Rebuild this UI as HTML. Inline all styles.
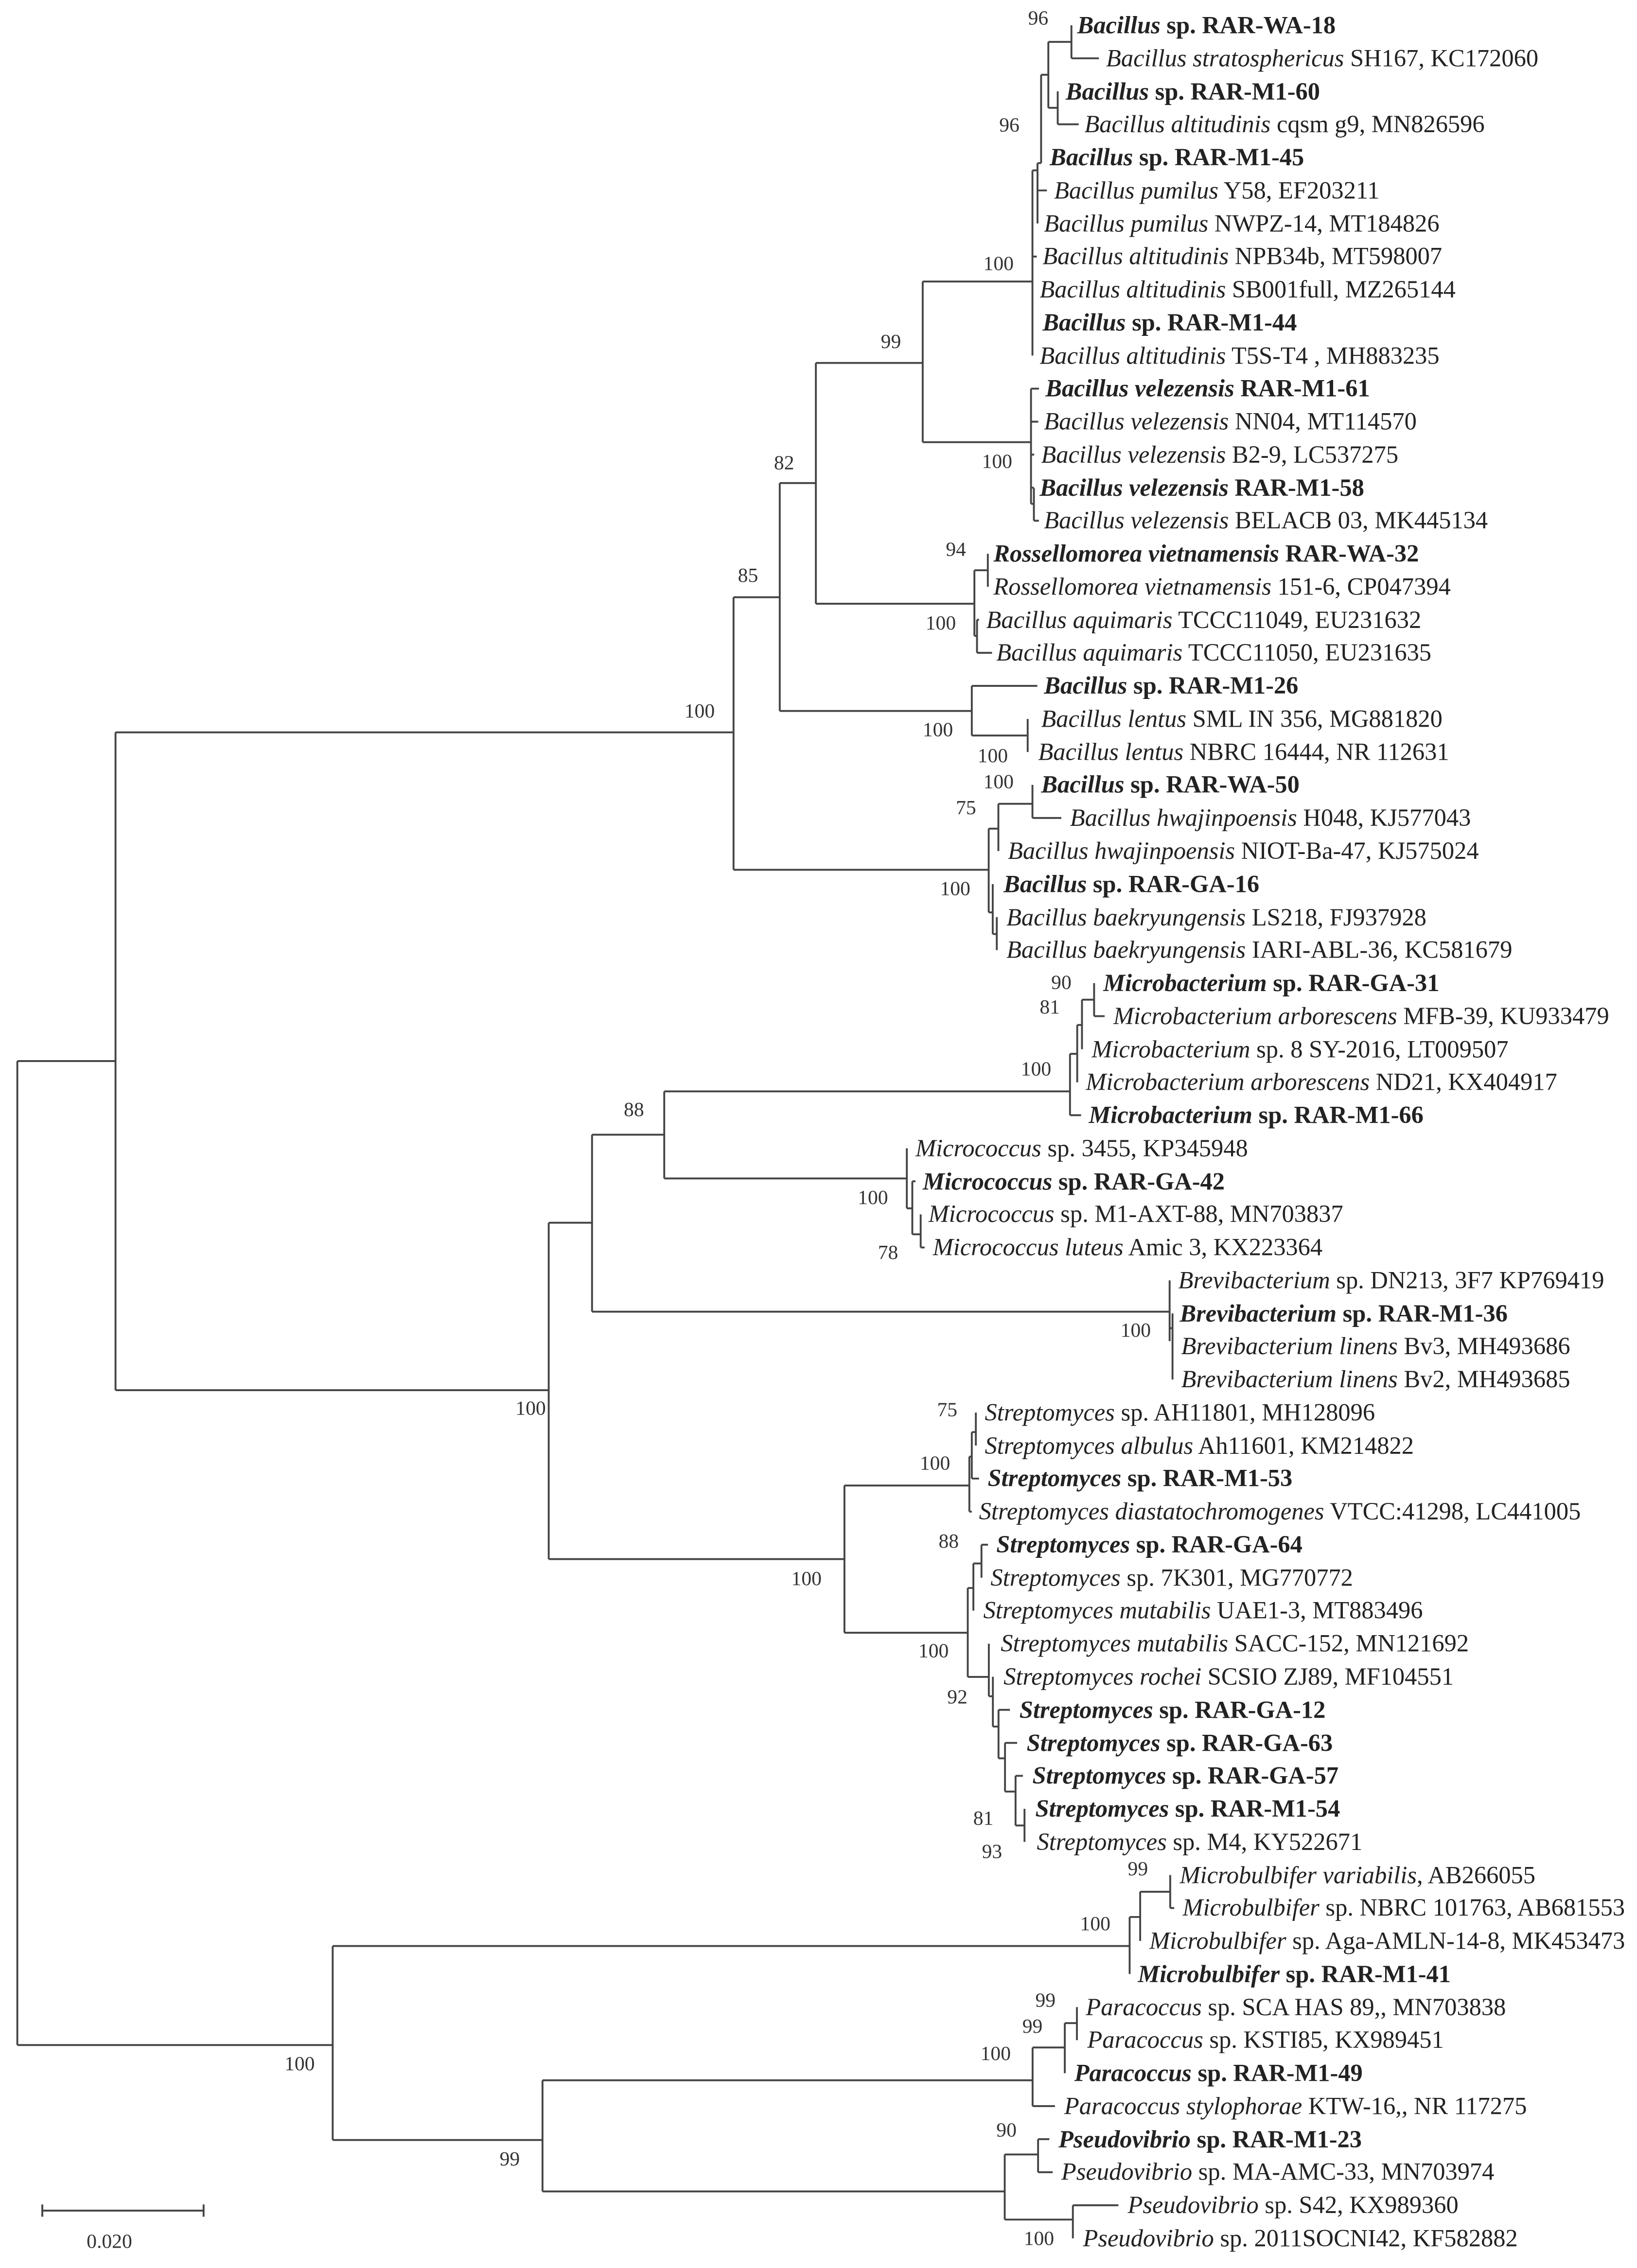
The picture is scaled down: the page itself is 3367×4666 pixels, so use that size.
<!DOCTYPE html>
<html><head><meta charset="utf-8"><style>
html,body{margin:0;padding:0;background:#fff;}
svg{display:block;}
text{font-family:"Liberation Serif",serif;fill:#222;}
.l{font-size:17px;}
.b{font-weight:bold;}
.n{font-size:14px;fill:#333;}
.i{font-style:italic;}
</style></head><body>
<svg width="3367" height="4666" viewBox="0 0 1133.67 1571.04" xmlns="http://www.w3.org/2000/svg">
<rect width="1133.67" height="1571.04" fill="#fff"/>
<path fill="none" stroke="#444" stroke-width="1.3" d="
M742 17.5V40.4M742 40.4H761
M732.5 63.3V86.1M732.5 86.1H747
M726 29V74.7M726 29H742M726 74.7H732.5
M721 51.8V113M721 51.8H726
M718.5 113V154.8M718.5 113H721M718.5 131.9H725
M715 118V246.3M715 118H718.5M715 177.7H718
M639 195V306.3M639 195H715M639 306.3H714
M714 269.2V349M714 269.2H719.5M714 292.1H719M714 314.9H716.2M714 337.8H716M714 349H716M716 338V360.7M716 360.7H719.5
M565 251.4V418.2M565 251.4H639M565 418.2H674.8
M674.8 395V440.5M674.8 395H684.1M684.1 383.6V406.5M674.8 440.5H676.6M676.6 429.3V452.2M676.6 429.3H678M676.6 452.2H687
M540 334.6V492.5M540 334.6H565M540 492.5H673
M673 475.1V509.5M673 475.1H718.4M673 509.5H711.7M711.7 498V520.9
M508 413.7V602.5M508 413.7H540M508 602.5H684.7
M684.7 574V632M684.7 574H691.4M691.4 556.8V589.5M691.4 556.8H715M715 543.7V566.6M715 566.6H735
M684.7 632H687.5M687.5 612.4V647M687.5 647H690.3M690.3 635.3V658.1
M80 507.3V963M80 507.3H508M80 963H380
M12 735V1416.6M12 735H80M12 1416.6H230.4
M380 847V1080M380 847H410M380 1080H584.8
M410 786V908.6M410 786H460M410 908.6H810
M460 756V816.3M460 756H741M460 816.3H628
M741 730V772.5M741 730H746M741 772.5H748.7M746 710V749.7M746 710H749.3M749.3 692.5V726.8M749.3 692.5H757.7M757.7 681V703.9M757.7 703.9H765
M628 795.4V837M628 837H631.8M631.8 818.3V855M631.8 818.3H634M631.8 855H637.6M637.6 841.2V864.1M637.6 864.1H640.3
M810 886.9V929M810 920H812M812 909.8V955.6
M584.8 1029V1131M584.8 1029H671.3M584.8 1131H670.2
M671.3 1009V1047.1M671.3 1009H673M673 992V1024.2M673 992H675.8M673 1024.2H678M675.8 978.5V1001.3M671.3 1047.1H673
M670.2 1100V1161.6M670.2 1100H674.1M674.1 1083V1115.7M674.1 1083H679.7M679.7 1070V1092.9M679.7 1070H684.2
M670.2 1161.6H684.8M684.8 1138.6V1175M684.8 1175H687.6M687.6 1161.5V1196M687.6 1196H691.5M691.5 1184.4V1218M691.5 1184.4H699.4M691.5 1218H696M696 1207.3V1241M696 1207.3H704.4M696 1241H703.3M703.3 1230.1V1264.5M703.3 1230.1H708.4M703.3 1264.5H709.5M709.5 1253V1275.9
M230.4 1348V1482.4M230.4 1348H782.3M230.4 1482.4H375.7
M782.3 1327.9V1367.4M782.3 1327.9H789.6M789.6 1310.4V1344.5M789.6 1310.4H810.4M810.4 1298.8V1321.7M810.4 1321.7H813.2
M375.7 1441V1518M375.7 1441H715.1M375.7 1518H695.8
M715.1 1418.3V1458.9M715.1 1458.9H730.6M715.1 1418.3H737.4M737.4 1401.4V1436.1M737.4 1401.4H745.8M745.8 1390.3V1413.2
M695.8 1492.4V1537.5M695.8 1492.4H718.9M718.9 1481.8V1504.7M718.9 1481.8H726.7M718.9 1504.7H729M695.8 1537.5H743M743 1527.6V1550.5M743 1527.6H774.5
M29.3 1531.3H141M29.3 1527V1535.5M141 1527V1535.5
"/>
<g class="n">
<text class="n" x="712" y="17">96</text>
<text class="n" x="692" y="91">96</text>
<text class="n" x="681" y="187">100</text>
<text class="n" x="610" y="241">99</text>
<text class="n" x="680" y="324">100</text>
<text class="n" x="536" y="325">82</text>
<text class="n" x="511" y="403">85</text>
<text class="n" x="655" y="385">94</text>
<text class="n" x="641" y="436">100</text>
<text class="n" x="474" y="497">100</text>
<text class="n" x="639" y="510">100</text>
<text class="n" x="677" y="528">100</text>
<text class="n" x="681" y="546">100</text>
<text class="n" x="662" y="564">75</text>
<text class="n" x="651" y="620">100</text>
<text class="n" x="728" y="685">90</text>
<text class="n" x="720" y="702">81</text>
<text class="n" x="707" y="745">100</text>
<text class="n" x="432" y="773">88</text>
<text class="n" x="594" y="834">100</text>
<text class="n" x="608" y="872">78</text>
<text class="n" x="776" y="926">100</text>
<text class="n" x="357" y="980">100</text>
<text class="n" x="649" y="981">75</text>
<text class="n" x="637" y="1018">100</text>
<text class="n" x="650" y="1072">88</text>
<text class="n" x="548" y="1098">100</text>
<text class="n" x="636" y="1148">100</text>
<text class="n" x="656" y="1180">92</text>
<text class="n" x="674" y="1264">81</text>
<text class="n" x="680" y="1287">93</text>
<text class="n" x="781" y="1299">99</text>
<text class="n" x="748" y="1337">100</text>
<text class="n" x="197" y="1434">100</text>
<text class="n" x="717" y="1390">99</text>
<text class="n" x="708" y="1408">99</text>
<text class="n" x="679" y="1427">100</text>
<text class="n" x="690" y="1480">90</text>
<text class="n" x="346" y="1500">99</text>
<text class="n" x="709" y="1555">100</text>
<text class="n" x="60" y="1557">0.020</text>
</g>
<g class="l">
<text class="l b" x="746" y="23"><tspan class="i">Bacillus</tspan> sp. RAR-WA-18</text>
<text class="l" x="766" y="46"><tspan class="i">Bacillus stratosphericus</tspan> SH167, KC172060</text>
<text class="l b" x="738" y="69"><tspan class="i">Bacillus</tspan> sp. RAR-M1-60</text>
<text class="l" x="751" y="91.5"><tspan class="i">Bacillus altitudinis</tspan> cqsm g9, MN826596</text>
<text class="l b" x="727" y="114.5"><tspan class="i">Bacillus</tspan> sp. RAR-M1-45</text>
<text class="l" x="730" y="137.5"><tspan class="i">Bacillus pumilus</tspan> Y58, EF203211</text>
<text class="l" x="723" y="160.5"><tspan class="i">Bacillus pumilus</tspan> NWPZ-14, MT184826</text>
<text class="l" x="722" y="183"><tspan class="i">Bacillus altitudinis</tspan> NPB34b, MT598007</text>
<text class="l" x="720" y="206"><tspan class="i">Bacillus altitudinis</tspan> SB001full, MZ265144</text>
<text class="l b" x="722" y="229"><tspan class="i">Bacillus</tspan> sp. RAR-M1-44</text>
<text class="l" x="720" y="252"><tspan class="i">Bacillus altitudinis</tspan> T5S-T4 , MH883235</text>
<text class="l b" x="724" y="274.5"><tspan class="i">Bacillus velezensis</tspan> RAR-M1-61</text>
<text class="l" x="723" y="297.5"><tspan class="i">Bacillus velezensis</tspan> NN04, MT114570</text>
<text class="l" x="721" y="320.5"><tspan class="i">Bacillus velezensis</tspan> B2-9, LC537275</text>
<text class="l b" x="720" y="343.5"><tspan class="i">Bacillus velezensis</tspan> RAR-M1-58</text>
<text class="l" x="723" y="366"><tspan class="i">Bacillus velezensis</tspan> BELACB 03, MK445134</text>
<text class="l b" x="688" y="389"><tspan class="i">Rossellomorea vietnamensis</tspan> RAR-WA-32</text>
<text class="l" x="688" y="412"><tspan class="i">Rossellomorea vietnamensis</tspan> 151-6, CP047394</text>
<text class="l" x="683" y="435"><tspan class="i">Bacillus aquimaris</tspan> TCCC11049, EU231632</text>
<text class="l" x="690" y="457.5"><tspan class="i">Bacillus aquimaris</tspan> TCCC11050, EU231635</text>
<text class="l b" x="723" y="480.5"><tspan class="i">Bacillus</tspan> sp. RAR-M1-26</text>
<text class="l" x="721" y="503.5"><tspan class="i">Bacillus lentus</tspan> SML IN 356, MG881820</text>
<text class="l" x="719" y="526.5"><tspan class="i">Bacillus lentus</tspan> NBRC 16444, NR 112631</text>
<text class="l b" x="721" y="549"><tspan class="i">Bacillus</tspan> sp. RAR-WA-50</text>
<text class="l" x="741" y="572"><tspan class="i">Bacillus hwajinpoensis</tspan> H048, KJ577043</text>
<text class="l" x="698" y="595"><tspan class="i">Bacillus hwajinpoensis</tspan> NIOT-Ba-47, KJ575024</text>
<text class="l b" x="695" y="618"><tspan class="i">Bacillus</tspan> sp. RAR-GA-16</text>
<text class="l" x="697" y="641"><tspan class="i">Bacillus baekryungensis</tspan> LS218, FJ937928</text>
<text class="l" x="697" y="663.5"><tspan class="i">Bacillus baekryungensis</tspan> IARI-ABL-36, KC581679</text>
<text class="l b" x="764" y="686.5"><tspan class="i">Microbacterium</tspan> sp. RAR-GA-31</text>
<text class="l" x="771" y="709.5"><tspan class="i">Microbacterium arborescens</tspan> MFB-39, KU933479</text>
<text class="l" x="756" y="732.5"><tspan class="i">Microbacterium</tspan> sp. 8 SY-2016, LT009507</text>
<text class="l" x="752" y="755"><tspan class="i">Microbacterium arborescens</tspan> ND21, KX404917</text>
<text class="l b" x="754" y="778"><tspan class="i">Microbacterium</tspan> sp. RAR-M1-66</text>
<text class="l" x="634" y="801"><tspan class="i">Micrococcus</tspan> sp. 3455, KP345948</text>
<text class="l b" x="639" y="824"><tspan class="i">Micrococcus</tspan> sp. RAR-GA-42</text>
<text class="l" x="643" y="846.5"><tspan class="i">Micrococcus</tspan> sp. M1-AXT-88, MN703837</text>
<text class="l" x="646" y="869.5"><tspan class="i">Micrococcus luteus</tspan> Amic 3, KX223364</text>
<text class="l" x="816" y="892.5"><tspan class="i">Brevibacterium</tspan> sp. DN213, 3F7 KP769419</text>
<text class="l b" x="817" y="915.5"><tspan class="i">Brevibacterium</tspan> sp. RAR-M1-36</text>
<text class="l" x="818" y="938"><tspan class="i">Brevibacterium linens</tspan> Bv3, MH493686</text>
<text class="l" x="818" y="961"><tspan class="i">Brevibacterium linens</tspan> Bv2, MH493685</text>
<text class="l" x="682" y="984"><tspan class="i">Streptomyces</tspan> sp. AH11801, MH128096</text>
<text class="l" x="682" y="1007"><tspan class="i">Streptomyces albulus</tspan> Ah11601, KM214822</text>
<text class="l b" x="684" y="1029.5"><tspan class="i">Streptomyces</tspan> sp. RAR-M1-53</text>
<text class="l" x="678" y="1052.5"><tspan class="i">Streptomyces diastatochromogenes</tspan> VTCC:41298, LC441005</text>
<text class="l b" x="690" y="1075.5"><tspan class="i">Streptomyces</tspan> sp. RAR-GA-64</text>
<text class="l" x="686" y="1098.5"><tspan class="i">Streptomyces</tspan> sp. 7K301, MG770772</text>
<text class="l" x="681" y="1121"><tspan class="i">Streptomyces mutabilis</tspan> UAE1-3, MT883496</text>
<text class="l" x="693" y="1144"><tspan class="i">Streptomyces mutabilis</tspan> SACC-152, MN121692</text>
<text class="l" x="695" y="1167"><tspan class="i">Streptomyces rochei</tspan> SCSIO ZJ89, MF104551</text>
<text class="l b" x="706" y="1190"><tspan class="i">Streptomyces</tspan> sp. RAR-GA-12</text>
<text class="l b" x="711" y="1213"><tspan class="i">Streptomyces</tspan> sp. RAR-GA-63</text>
<text class="l b" x="715" y="1235.5"><tspan class="i">Streptomyces</tspan> sp. RAR-GA-57</text>
<text class="l b" x="717" y="1258.5"><tspan class="i">Streptomyces</tspan> sp. RAR-M1-54</text>
<text class="l" x="718" y="1281.5"><tspan class="i">Streptomyces</tspan> sp. M4, KY522671</text>
<text class="l" x="817" y="1304.5"><tspan class="i">Microbulbifer variabilis</tspan>, AB266055</text>
<text class="l" x="819" y="1327"><tspan class="i">Microbulbifer</tspan> sp. NBRC 101763, AB681553</text>
<text class="l" x="796" y="1350"><tspan class="i">Microbulbifer</tspan> sp. Aga-AMLN-14-8, MK453473</text>
<text class="l b" x="788" y="1373"><tspan class="i">Microbulbifer</tspan> sp. RAR-M1-41</text>
<text class="l" x="752" y="1396"><tspan class="i">Paracoccus</tspan> sp. SCA HAS 89,, MN703838</text>
<text class="l" x="753" y="1418.5"><tspan class="i">Paracoccus</tspan> sp. KSTI85, KX989451</text>
<text class="l b" x="744" y="1441.5"><tspan class="i">Paracoccus</tspan> sp. RAR-M1-49</text>
<text class="l" x="737" y="1464.5"><tspan class="i">Paracoccus stylophorae</tspan> KTW-16,, NR 117275</text>
<text class="l b" x="733" y="1487.5"><tspan class="i">Pseudovibrio</tspan> sp. RAR-M1-23</text>
<text class="l" x="735" y="1510"><tspan class="i">Pseudovibrio</tspan> sp. MA-AMC-33, MN703974</text>
<text class="l" x="781" y="1533"><tspan class="i">Pseudovibrio</tspan> sp. S42, KX989360</text>
<text class="l" x="750" y="1556"><tspan class="i">Pseudovibrio</tspan> sp. 2011SOCNI42, KF582882</text>
</g>
</svg>
</body></html>
